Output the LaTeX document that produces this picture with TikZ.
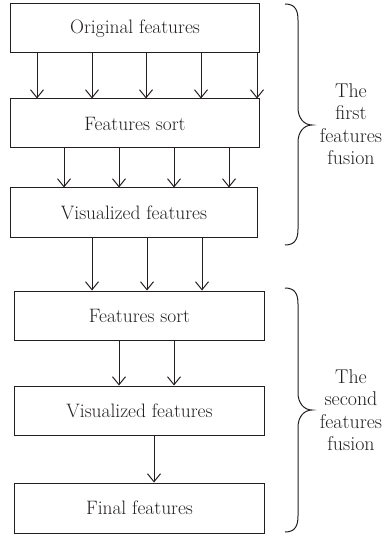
\documentclass[tikz,border=0pt]{standalone}
\usetikzlibrary{arrows.meta}
\definecolor{ink}{HTML}{231F20}
\begin{document}
\begin{tikzpicture}[x=1bp,y=-1bp,
  line width=1bp, draw=ink,
  stage/.style={draw=ink, line width=1bp, minimum height=49bp, inner sep=0pt,
    font=\fontsize{19.5}{24}\selectfont, text=ink},
  arr/.style={draw=ink, -{Straight Barb[length=8bp,width=13bp,line width=1bp]}},
  note/.style={align=center, text=ink, font=\fontsize{20}{22.5}\selectfont}]
\useasboundingbox (0,0) rectangle (390,535);

% first fusion stage
\node[stage, minimum width=248bp] (orig) at (135,28.5) {Original features};
\node[stage, minimum width=248bp] (sortA) at (135,123.5) {Features sort};
\node[stage, minimum width=246bp] (visA) at (134,212.5) {Visualized features};

% second fusion stage
\node[stage, minimum width=249bp] (sortB) at (139.5,315.5) {Features sort};
\node[stage, minimum width=249bp] (visB) at (139.5,410.5) {Visualized features};
\node[stage, minimum width=249bp, minimum height=50bp] (final) at (139.5,508) {Final features};

% connectors
\foreach \x in {37,92,146,201,257}
  \draw[arr] (\x,0 |- orig.south) -- (\x,0 |- sortA.north);
\foreach \x in {64,119,174,229}
  \draw[arr] (\x,0 |- sortA.south) -- (\x,0 |- visA.north);
\foreach \x in {92,147,202}
  \draw[arr] (\x,0 |- visA.south) -- (\x,0 |- sortB.north);
\foreach \x in {119,174}
  \draw[arr] (\x,0 |- sortB.south) -- (\x,0 |- visB.north);
\draw[arr] (154,0 |- visB.south) -- (154,0 |- final.north);

% braces
\draw[ink] (285,4) .. controls (295,4) and (298,10) .. (298,20) -- (298,108)
  .. controls (298,118) and (304,125) .. (312,125)
  .. controls (304,125) and (298,132) .. (298,142) -- (298,229)
  .. controls (298,239) and (295,245) .. (285,245);
\draw[ink] (285,288) .. controls (295,288) and (298,294) .. (298,304) -- (298,393)
  .. controls (298,403) and (304,410) .. (312,410)
  .. controls (304,410) and (298,417) .. (298,427) -- (298,516)
  .. controls (298,526) and (295,532) .. (285,532);

\node[note] (noteA) at (351,124) {The\\first\\features\\fusion};
\node[note] (noteB) at (351,410) {The\\second\\features\\fusion};
\end{tikzpicture}
\end{document}
